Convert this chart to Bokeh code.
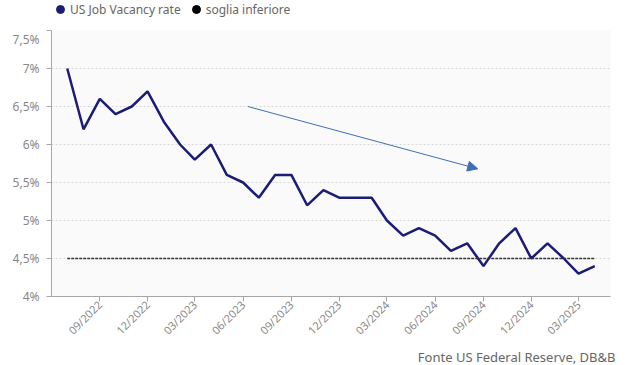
import math
import pandas as pd
from bokeh.plotting import figure
from bokeh.layouts import column
from bokeh.models import (Legend, LegendItem, Arrow, NormalHead, FixedTicker,
                          DatetimeTickFormatter, Range1d, Title)
from bokeh.embed import file_html
from bokeh.resources import INLINE

# ---- data ----
months = ["2022-07", "2022-08", "2022-09", "2022-10", "2022-11", "2022-12",
          "2023-01", "2023-02", "2023-03", "2023-04", "2023-05", "2023-06",
          "2023-07", "2023-08", "2023-09", "2023-10", "2023-11", "2023-12",
          "2024-01", "2024-02", "2024-03", "2024-04", "2024-05", "2024-06",
          "2024-07", "2024-08", "2024-09", "2024-10", "2024-11", "2024-12",
          "2025-01", "2025-02", "2025-03", "2025-04"]
vacancy_rate = [7.0, 6.2, 6.6, 6.4, 6.5, 6.7,
                6.3, 6.0, 5.8, 6.0, 5.6, 5.5,
                5.3, 5.6, 5.6, 5.2, 5.4, 5.3,
                5.3, 5.3, 5.0, 4.8, 4.9, 4.8,
                4.6, 4.7, 4.4, 4.7, 4.9, 4.5,
                4.7, 4.5, 4.3, 4.4]
threshold = 4.5
x_tick_months = ["2022-09", "2022-12", "2023-03", "2023-06", "2023-09", "2023-12",
                 "2024-03", "2024-06", "2024-09", "2024-12", "2025-03"]
y_ticks = [4.0, 4.5, 5.0, 5.5, 6.0, 6.5, 7.0, 7.5]
y_tick_labels = ["4%", "4,5%", "5%", "5,5%", "6%", "6,5%", "7%", "7,5%"]
trend_start = ("2023-06-10", 6.5)
trend_end = ("2024-08-21", 5.68)
series_names = ["US Job Vacancy rate", "soglia inferiore"]
source_text = "Fonte US Federal Reserve, DB&B"

dates = pd.to_datetime(months)
thr_dates = [dates[0], dates[-1]]
thr_values = [threshold, threshold]

FONT = "Noto Sans"
NAVY = "#1b1b78"
GREY_TXT = "#666666"

# ---- legend strip ----
lg = figure(width=631, height=30, output_backend="svg", toolbar_location=None,
            x_axis_location=None, y_axis_location=None,
            min_border_left=0, min_border_right=0, min_border_top=0,
            min_border_bottom=0)
lg.outline_line_color = None
lg.xgrid.visible = False
lg.ygrid.visible = False
leg1 = lg.scatter(dates, vacancy_rate, size=8, color=NAVY, visible=False)
leg2 = lg.scatter(thr_dates, thr_values, size=8, color="black", visible=False)
legend = Legend(items=[LegendItem(label=series_names[0], renderers=[leg1]),
                       LegendItem(label=series_names[1], renderers=[leg2])],
                orientation="horizontal", location=(-1, 11),
                border_line_color=None, background_fill_alpha=0,
                padding=0, margin=0, spacing=5, label_standoff=0,
                glyph_width=20, glyph_height=20, label_height=14,
                label_text_font=FONT, label_text_font_size="12px",
                label_text_color=GREY_TXT)
lg.add_layout(legend, "center")

# ---- main chart ----
p = figure(width=631, height=335, x_axis_type="datetime",
           output_backend="svg", toolbar_location=None,
           x_range=Range1d(pd.Timestamp("2022-06-01"), pd.Timestamp("2025-05-01")),
           y_range=Range1d(4.0, 7.5),
           min_border_left=51, min_border_right=21, min_border_top=0,
           min_border_bottom=69)
p.outline_line_color = None
p.background_fill_color = "#fafafa"
p.border_fill_color = "white"

p.xgrid.grid_line_color = None
p.ygrid.grid_line_color = "#d9d9d9"
p.ygrid.grid_line_dash = "2 2"
p.ygrid.grid_line_width = 1

p.yaxis.ticker = FixedTicker(ticks=y_ticks)
p.yaxis.major_label_overrides = {t: l for t, l in zip(y_ticks, y_tick_labels)}
tick_ms = [pd.Timestamp(m).value / 1e6 for m in x_tick_months]
p.xaxis.ticker = FixedTicker(ticks=tick_ms)
fmt = "%m/%Y"
p.xaxis.formatter = DatetimeTickFormatter(days=fmt, months=fmt, years=fmt,
                                          hours=fmt, minutes=fmt)
p.xaxis.major_label_orientation = math.pi / 4
for ax in (p.xaxis[0], p.yaxis[0]):
    ax.axis_line_color = "#a6a6a6"
    ax.major_tick_line_color = "#a6a6a6"
    ax.major_tick_in = 0
    ax.major_tick_out = 5
    ax.minor_tick_line_color = None
    ax.major_label_text_color = "#888888"
    ax.major_label_text_font = FONT
p.yaxis.major_label_text_font_size = "12px"
p.yaxis.major_label_standoff = 7
p.xaxis.major_label_text_font_size = "11px"
p.xaxis.major_label_standoff = 1

p.line(dates, vacancy_rate, line_color=NAVY, line_width=2.5)
p.line(thr_dates, thr_values, line_color="#333333", line_width=1.5, line_dash="3 1")

p.add_layout(Arrow(x_start=pd.Timestamp(trend_start[0]).value / 1e6, y_start=trend_start[1],
                   x_end=pd.Timestamp(trend_end[0]).value / 1e6, y_end=trend_end[1],
                   line_color="#3d6fb6", line_width=1,
                   end=NormalHead(size=10, fill_color="#3d6fb6", line_color="#3d6fb6")))

src = Title(text=source_text, align="right", text_font=FONT, text_font_size="13px",
            text_color=GREY_TXT, text_font_style="normal", offset=-5, standoff=0)
p.add_layout(src, "below")

layout = column(lg, p, spacing=0)
open("out.html", "w").write(file_html(layout, INLINE))
